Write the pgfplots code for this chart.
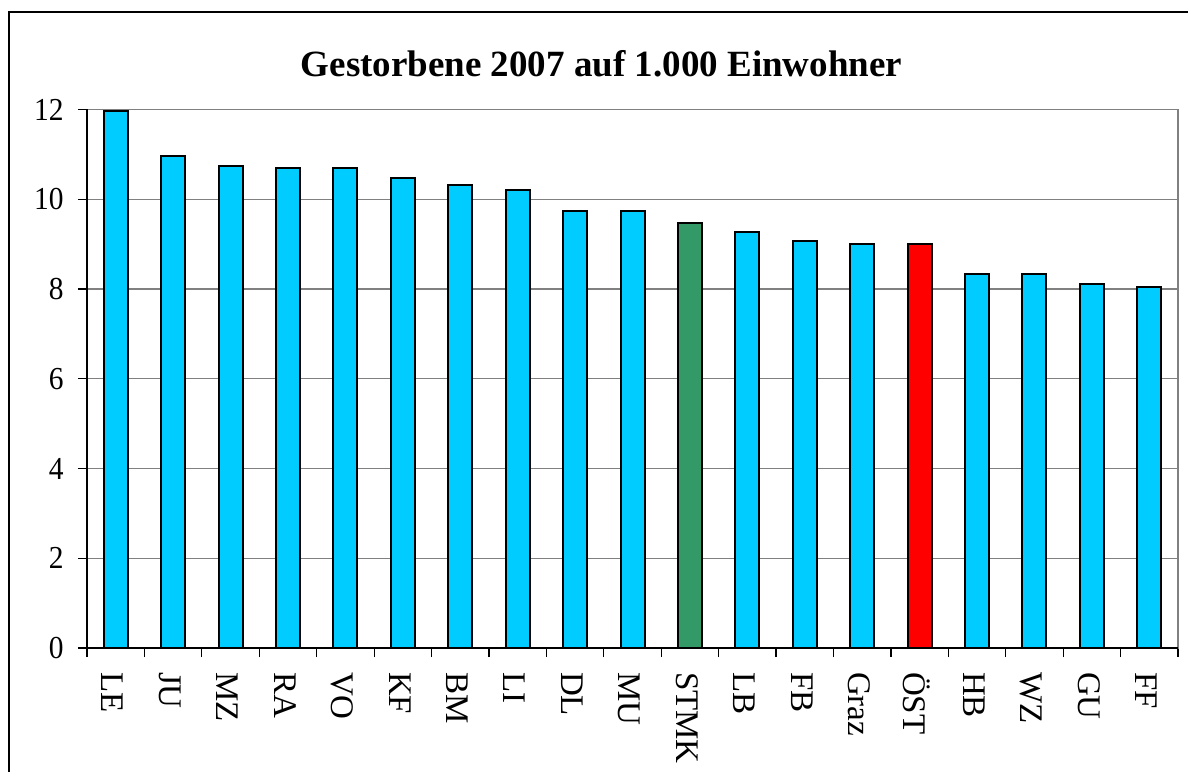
\documentclass[border=0pt]{standalone}
\usepackage{fontspec}
\setmainfont{Liberation Serif}
\usepackage{pgfplots}
\pgfplotsset{compat=1.18}
\definecolor{barcyan}{RGB}{0,204,255}
\definecolor{bargreen}{RGB}{51,153,102}
\definecolor{barred}{RGB}{255,0,0}
\definecolor{gridgray}{RGB}{128,128,128}

\begin{document}
\begin{tikzpicture}
\path[use as bounding box] (0,0) rectangle (594bp,386bp);
% Rahmen um das ganze Diagramm
\draw[line width=1bp, black] (4.5bp,0) -- (4.5bp,379.75bp) -- (594bp,379.75bp);
\node[anchor=base, font=\bfseries\fontsize{18.5bp}{20bp}\selectfont]
  at (300.75bp,347.5bp) {Gestorbene 2007 auf 1.000 Einwohner};
\begin{axis}[
    at={(43.5bp,62bp)}, anchor=south west,
    scale only axis,
    width=545.5bp, height=269.25bp,
    xmin=-0.5, xmax=18.5,
    ymin=0, ymax=12,
    ytick={0,2,...,12},
    xtick={-0.5,0.5,...,18.5},
    x tick label as interval,
    xticklabels={LE,JU,MZ,RA,VO,KF,BM,LI,DL,MU,STMK,LB,FB,Graz,ÖST,HB,WZ,GU,FF},
    tick align=outside,
    tick pos=left,
    major tick length=4.5bp,
    tick style={black, line width=0.6bp},
    ymajorgrids,
    major grid style={gridgray, line width=0.6bp},
    axis line style={gridgray, line width=0.6bp},
    yticklabel style={font=\fontsize{16bp}{18bp}\selectfont, xscale=0.92},
    yticklabel shift=4bp,
    xticklabel style={font=\fontsize{16.5bp}{18bp}\selectfont, xshift=-1.5bp, rotate=-90, anchor=west},
    xticklabel shift=4bp,
    /pgf/number format/assume math mode=true,
    ybar, bar width=12bp, bar shift=0pt,
    clip=false,
]
\addplot[fill=barcyan, draw=black, line width=1bp] coordinates {
    (0,11.97) (1,10.97) (2,10.73) (3,10.70) (4,10.69) (5,10.48) (6,10.31)
    (7,10.20) (8,9.74) (9,9.74) (11,9.28) (12,9.06) (13,9.00)
    (15,8.33) (16,8.33) (17,8.11) (18,8.04)};
\addplot[fill=bargreen, draw=black, line width=1bp] coordinates {(10,9.46)};
\addplot[fill=barred, draw=black, line width=1bp] coordinates {(14,9.00)};
\draw[black, line width=0.6bp] (rel axis cs:0,1) -- (rel axis cs:0,0) -- (rel axis cs:1,0);
\end{axis}
\end{tikzpicture}
\end{document}
